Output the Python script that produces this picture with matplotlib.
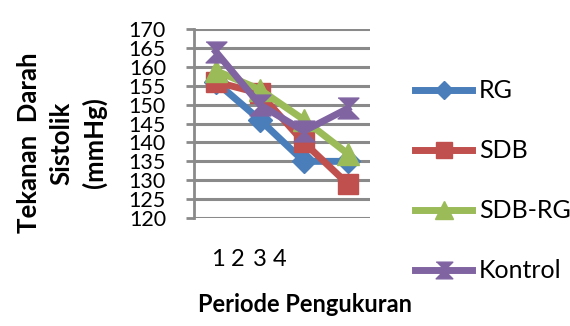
import numpy as np
import matplotlib
matplotlib.use("Agg")
import matplotlib.pyplot as plt

periode = [1, 2, 3, 4]
periode_labels = ["1", "2", "3", "4"]
rg = [156, 146, 135, 135]
sdb = [156, 153, 140, 129]
sdb_rg = [159, 154, 146, 137]
kontrol = [164, 150, 143, 149]
y_ticks = list(range(120, 171, 5))

plt.rcParams['font.family'] = ['Lato', 'DejaVu Sans']

fig = plt.figure(figsize=(5.7, 3.26), dpi=100)
ax = fig.add_axes([0.340, 0.331, 0.309, 0.580])

hourglass = [(-1, 1), (1, 1), (0, 0), (1, -1), (-1, -1), (0, 0)]

series = [
    ("RG", rg, "#4A7EBB", "D", 12),
    ("SDB", sdb, "#C0504D", "s", 15),
    ("SDB-RG", sdb_rg, "#9BBB59", "^", 16),
    ("Kontrol", kontrol, "#8064A2", hourglass, 15),
]

for name, vals, col, mk, ms in series:
    ax.plot(periode, vals, color=col, linewidth=5, marker=mk, markersize=ms,
            markerfacecolor=col, markeredgecolor=col, label=name)

ax.set_xlim(0.5, 4.5)
ax.set_ylim(120, 170)
ax.set_yticks(y_ticks)
ax.set_yticklabels([str(v) for v in y_ticks], fontsize=15.5)
ax.set_xticks([])
ax.yaxis.grid(True, color="#8a8a8a", linewidth=2.2)
ax.set_axisbelow(True)
ax.tick_params(axis="y", length=6, width=2, color="#8a8a8a", pad=14)
for s in ["top", "right", "bottom"]:
    ax.spines[s].set_visible(False)
ax.spines["left"].set_color("#8a8a8a")
ax.spines["left"].set_linewidth(2)

# x labels sit squeezed at the left, as in the original
for lab, xp in zip(periode_labels, [218, 238, 260, 280]):
    fig.text(xp / 570, 1 - 259 / 326, lab, fontsize=17, ha="center", va="center")

fig.text(305 / 570, 1 - 304 / 326, "Periode Pengukuran", fontsize=17,
         fontweight="bold", ha="center", va="center")
fig.text(62 / 570, 1 - 143 / 326, "Tekanan  Darah\nSistolik\n(mmHg)", fontsize=18.5,
         fontweight="bold", ha="center", va="center", rotation=90,
         linespacing=1.42)

leg = fig.legend(loc="center left", bbox_to_anchor=(0.728, 0.445), frameon=False,
                 fontsize=18, labelspacing=1.48, handlelength=2.3, handletextpad=0.25,
                 markerscale=0.8, borderpad=0, borderaxespad=0)

fig.savefig("out.png", dpi=100)
